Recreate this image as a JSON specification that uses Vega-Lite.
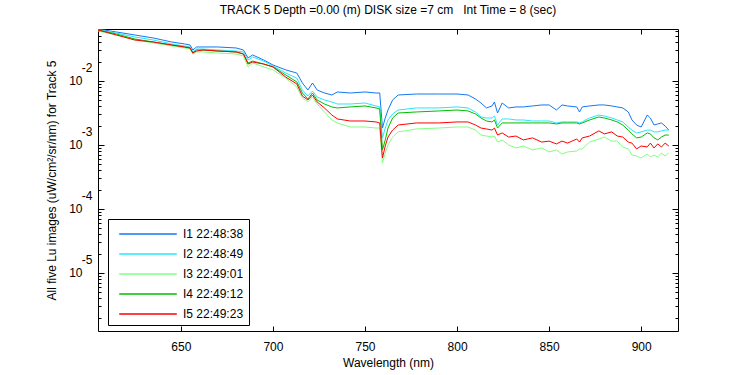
{
"$schema":"https://vega.github.io/schema/vega-lite/v6.json",
"width":580,"height":302,
"autosize":{"type":"none"},
"padding":{"left":98,"top":29,"right":72,"bottom":44},
"background":"white",
"title":{"text":"TRACK 5 Depth =0.00 (m) DISK size =7 cm\u00a0\u00a0 Int Time = 8 (sec)","anchor":"middle","offset":9,"fontSize":12,"fontWeight":"normal","font":"Liberation Sans","color":"black"},
"config":{"font":"Liberation Sans","view":{"stroke":"black","strokeWidth":1},
"axis":{"labelFontSize":12,"titleFontSize":12,"titleFontWeight":"normal","labelColor":"black","titleColor":"black","tickColor":"black","tickWidth":1,"grid":false,"domain":false,"labelFont":"Liberation Sans","titleFont":"Liberation Sans"},
"legend":{"labelFont":"Liberation Sans"}},
"data":{"values":[
{"w":605,"I1":0.0649,"I2":0.0627,"I3":0.0604,"I4":0.0627,"I5":0.0627},
{"w":615,"I1":0.0583,"I2":0.0562,"I3":0.0523,"I4":0.0542,"I5":0.0523},
{"w":625,"I1":0.0523,"I2":0.0487,"I3":0.0437,"I4":0.0453,"I5":0.0437},
{"w":635,"I1":0.0470,"I2":0.0437,"I3":0.0393,"I4":0.0407,"I5":0.0407},
{"w":645,"I1":0.0407,"I2":0.0379,"I3":0.0352,"I4":0.0365,"I5":0.0365},
{"w":652,"I1":0.0379,"I2":0.0352,"I3":0.0328,"I4":0.0340,"I5":0.0340},
{"w":655,"I1":0.0365,"I2":0.0340,"I3":0.0316,"I4":0.0328,"I5":0.0328},
{"w":656.5,"I1":0.0305,"I2":0.0284,"I3":0.0264,"I4":0.0274,"I5":0.0274},
{"w":658.5,"I1":0.0340,"I2":0.0316,"I3":0.0284,"I4":0.0305,"I5":0.0294},
{"w":662,"I1":0.0340,"I2":0.0316,"I3":0.0284,"I4":0.0305,"I5":0.0305},
{"w":670,"I1":0.0340,"I2":0.0305,"I3":0.0274,"I4":0.0294,"I5":0.0294},
{"w":680,"I1":0.0328,"I2":0.0294,"I3":0.0264,"I4":0.0284,"I5":0.0284},
{"w":684,"I1":0.0305,"I2":0.0284,"I3":0.0246,"I4":0.0264,"I5":0.0264},
{"w":686.5,"I1":0.0229,"I2":0.0213,"I3":0.0166,"I4":0.0191,"I5":0.0184},
{"w":689,"I1":0.0255,"I2":0.0237,"I3":0.0191,"I4":0.0205,"I5":0.0198},
{"w":695,"I1":0.0213,"I2":0.0205,"I3":0.0166,"I4":0.0184,"I5":0.0184},
{"w":700,"I1":0.0178,"I2":0.0171,"I3":0.0149,"I4":0.0166,"I5":0.0166},
{"w":707,"I1":0.0149,"I2":0.0133,"I3":0.0111,"I4":0.0124,"I5":0.0115},
{"w":713,"I1":0.0133,"I2":0.0111,"I3":0.00806,"I4":0.00965,"I5":0.00898},
{"w":716,"I1":0.00931,"I2":0.00723,"I3":0.00542,"I4":0.00649,"I5":0.00583},
{"w":719,"I1":0.00723,"I2":0.00583,"I3":0.00470,"I4":0.00523,"I5":0.00505},
{"w":721.5,"I1":0.00931,"I2":0.00698,"I3":0.00562,"I4":0.00649,"I5":0.00604},
{"w":724,"I1":0.00723,"I2":0.00562,"I3":0.00437,"I4":0.00505,"I5":0.00470},
{"w":728,"I1":0.00649,"I2":0.00505,"I3":0.00328,"I4":0.00437,"I5":0.00379},
{"w":732,"I1":0.00604,"I2":0.00470,"I3":0.00246,"I4":0.00393,"I5":0.00294},
{"w":735,"I1":0.00673,"I2":0.00437,"I3":0.00221,"I4":0.00379,"I5":0.00255},
{"w":742,"I1":0.00649,"I2":0.00437,"I3":0.00191,"I4":0.00393,"I5":0.00237},
{"w":750,"I1":0.00673,"I2":0.00453,"I3":0.00191,"I4":0.00407,"I5":0.00237},
{"w":756,"I1":0.00649,"I2":0.00407,"I3":0.00184,"I4":0.00379,"I5":0.00229},
{"w":758,"I1":0.00649,"I2":0.00393,"I3":0.00184,"I4":0.00365,"I5":0.00221},
{"w":759.5,"I1":0.00184,"I2":0.00129,"I3":0.000523,"I4":0.000836,"I5":0.000626},
{"w":761,"I1":0.00264,"I2":0.00184,"I3":0.000750,"I4":0.00120,"I5":0.000965},
{"w":762.5,"I1":0.00352,"I2":0.00246,"I3":0.00100,"I4":0.00184,"I5":0.00133},
{"w":765,"I1":0.00505,"I2":0.00305,"I3":0.00133,"I4":0.00264,"I5":0.00171},
{"w":768,"I1":0.00604,"I2":0.00352,"I3":0.00160,"I4":0.00316,"I5":0.00205},
{"w":778,"I1":0.00626,"I2":0.00379,"I3":0.00178,"I4":0.00328,"I5":0.00221},
{"w":790,"I1":0.00626,"I2":0.00379,"I3":0.00184,"I4":0.00340,"I5":0.00221},
{"w":800,"I1":0.00626,"I2":0.00393,"I3":0.00191,"I4":0.00352,"I5":0.00229},
{"w":806,"I1":0.00604,"I2":0.00379,"I3":0.00191,"I4":0.00340,"I5":0.00229},
{"w":810,"I1":0.00523,"I2":0.00328,"I3":0.00171,"I4":0.00305,"I5":0.00205},
{"w":813,"I1":0.00453,"I2":0.00274,"I3":0.00143,"I4":0.00264,"I5":0.00184},
{"w":816,"I1":0.00379,"I2":0.00264,"I3":0.00138,"I4":0.00237,"I5":0.00178},
{"w":819,"I1":0.00407,"I2":0.00264,"I3":0.00133,"I4":0.00229,"I5":0.00171},
{"w":820.3,"I1":0.00470,"I2":0.00284,"I3":0.00138,"I4":0.00246,"I5":0.00184},
{"w":822,"I1":0.00316,"I2":0.00205,"I3":0.00111,"I4":0.00184,"I5":0.00143},
{"w":824.5,"I1":0.00453,"I2":0.00255,"I3":0.00120,"I4":0.00221,"I5":0.00154},
{"w":828,"I1":0.00379,"I2":0.00255,"I3":0.00100,"I4":0.00221,"I5":0.00133},
{"w":832,"I1":0.00393,"I2":0.00246,"I3":0.000898,"I4":0.00221,"I5":0.00138},
{"w":836,"I1":0.00393,"I2":0.00246,"I3":0.000965,"I4":0.00221,"I5":0.00120},
{"w":841,"I1":0.00407,"I2":0.00237,"I3":0.000836,"I4":0.00221,"I5":0.00129},
{"w":846,"I1":0.00422,"I2":0.00237,"I3":0.000898,"I4":0.00221,"I5":0.00111},
{"w":850,"I1":0.00422,"I2":0.00237,"I3":0.000778,"I4":0.00221,"I5":0.00115},
{"w":854,"I1":0.00352,"I2":0.00221,"I3":0.000836,"I4":0.00213,"I5":0.00104},
{"w":857,"I1":0.00422,"I2":0.00229,"I3":0.000723,"I4":0.00221,"I5":0.00115},
{"w":860,"I1":0.00407,"I2":0.00229,"I3":0.000778,"I4":0.00221,"I5":0.00107},
{"w":865,"I1":0.00393,"I2":0.00229,"I3":0.000806,"I4":0.00221,"I5":0.00124},
{"w":866.5,"I1":0.00328,"I2":0.00221,"I3":0.000866,"I4":0.00213,"I5":0.00111},
{"w":868,"I1":0.00393,"I2":0.00229,"I3":0.000866,"I4":0.00221,"I5":0.00129},
{"w":872,"I1":0.00407,"I2":0.00264,"I3":0.00111,"I4":0.00246,"I5":0.00138},
{"w":877,"I1":0.00422,"I2":0.00294,"I3":0.00124,"I4":0.00274,"I5":0.00166},
{"w":880,"I1":0.00422,"I2":0.00284,"I3":0.00133,"I4":0.00264,"I5":0.00149},
{"w":884,"I1":0.00407,"I2":0.00264,"I3":0.00115,"I4":0.00246,"I5":0.00160},
{"w":887,"I1":0.00393,"I2":0.00246,"I3":0.00115,"I4":0.00229,"I5":0.00138},
{"w":890,"I1":0.00379,"I2":0.00229,"I3":0.000931,"I4":0.00205,"I5":0.00133},
{"w":893,"I1":0.00328,"I2":0.00191,"I3":0.000866,"I4":0.00171,"I5":0.00111},
{"w":895,"I1":0.00246,"I2":0.00171,"I3":0.000698,"I4":0.00149,"I5":0.00107},
{"w":897.5,"I1":0.00205,"I2":0.00154,"I3":0.000673,"I4":0.00129,"I5":0.000866},
{"w":900,"I1":0.00191,"I2":0.00160,"I3":0.000626,"I4":0.00133,"I5":0.000965},
{"w":903.3,"I1":0.00294,"I2":0.00171,"I3":0.000723,"I4":0.00154,"I5":0.000931},
{"w":905,"I1":0.00264,"I2":0.00171,"I3":0.000649,"I4":0.00149,"I5":0.00107},
{"w":907,"I1":0.00205,"I2":0.00160,"I3":0.000698,"I4":0.00129,"I5":0.000898},
{"w":909,"I1":0.00213,"I2":0.00160,"I3":0.000649,"I4":0.00120,"I5":0.00104},
{"w":911,"I1":0.00221,"I2":0.00166,"I3":0.000750,"I4":0.00133,"I5":0.000931},
{"w":913,"I1":0.00198,"I2":0.00171,"I3":0.000673,"I4":0.00143,"I5":0.00107},
{"w":915,"I1":0.00171,"I2":0.00171,"I3":0.000750,"I4":0.00143,"I5":0.000965}
]},
"transform":[{"fold":["I1","I2","I3","I4","I5"],"as":["series","v"]}],
"resolve":{"axis":{"x":"independent","y":"independent"}},
"layer":[
{"mark":{"type":"line","strokeWidth":1,"clip":true},
 "encoding":{
  "x":{"field":"w","type":"quantitative","scale":{"domain":[605,920],"nice":false,"zero":false},
       "axis":{"orient":"bottom","values":[650,700,750,800,850,900],"ticks":false,"labelPadding":10,"title":"Wavelength (nm)","titlePadding":5,"labelFlush":false}},
  "y":{"field":"v","type":"quantitative","scale":{"type":"log","domain":[1.24e-6,0.0649],"nice":false},
       "axis":{"orient":"left","values":[1e-5,1e-4,1e-3,1e-2],"ticks":false,"labelExpr":"'10'","offset":16,"labelPadding":0,"labelBaseline":"middle",
       "title":"All five Lu images (uW/cm²/sr/nm) for Track 5","titlePadding":10}},
  "color":{"field":"series","type":"nominal",
           "scale":{"domain":["I1","I2","I3","I4","I5"],"range":["#1478F0","#28E6FF","#80FF80","#00BE00","#FF0000"]},
           "legend":{"orient":"none","legendX":10,"legendY":190,"title":null,"direction":"vertical",
                     "fillColor":"white","strokeColor":"black","padding":5,"symbolType":"M-3.2,0H3.2","symbolSize":324,"symbolStrokeWidth":1.5,"symbolOffset":25,
                     "labelFontSize":12,"labelColor":"black","labelOffset":25,"rowPadding":4,
                     "labelExpr":"datum.label == 'I1' ? 'I1 22:48:38' : datum.label == 'I2' ? 'I2 22:48:49' : datum.label == 'I3' ? 'I3 22:49:01' : datum.label == 'I4' ? 'I4 22:49:12' : 'I5 22:49:23'"}}
 }},
{"mark":{"type":"point","opacity":0},
 "encoding":{
  "x":{"field":"w","type":"quantitative","axis":{"orient":"bottom","values":[650,700,750,800,850,900],"labels":false,"tickSize":-5,"title":null}},
  "y":{"field":"v","type":"quantitative","axis":{"orient":"left","values":[1e-5,1e-4,1e-3,1e-2],"ticks":false,"labelExpr":"'-' + format(-round(log(datum.value)/LN10), 'd')","offset":6,"labelPadding":0,"labelOffset":-13,"labelBaseline":"middle","title":null}}
 }},
{"mark":{"type":"point","opacity":0},
 "encoding":{
  "x":{"field":"w","type":"quantitative","axis":{"orient":"top","values":[650,700,750,800,850,900],"labels":false,"tickSize":-5,"title":null}},
  "y":{"field":"v","type":"quantitative","axis":{"orient":"left","values":[1e-5,1e-4,1e-3,1e-2],"labels":false,"tickSize":-6,"title":null}}
 }},
{"mark":{"type":"point","opacity":0},
 "encoding":{
  "x":{"field":"w","type":"quantitative","axis":null},
  "y":{"field":"v","type":"quantitative","axis":{"orient":"left","values":[2e-6,3e-6,4e-6,5e-6,6e-6,7e-6,8e-6,9e-6,2e-5,3e-5,4e-5,5e-5,6e-5,7e-5,8e-5,9e-5,2e-4,3e-4,4e-4,5e-4,6e-4,7e-4,8e-4,9e-4,2e-3,3e-3,4e-3,5e-3,6e-3,7e-3,8e-3,9e-3,2e-2,3e-2,4e-2,5e-2,6e-2],"labels":false,"tickSize":-3,"title":null}}
 }},
{"mark":{"type":"point","opacity":0},
 "encoding":{
  "x":{"field":"w","type":"quantitative","axis":null},
  "y":{"field":"v","type":"quantitative","axis":{"orient":"right","values":[1e-5,1e-4,1e-3,1e-2],"labels":false,"tickSize":-6,"title":null}}
 }},
{"mark":{"type":"point","opacity":0},
 "encoding":{
  "x":{"field":"w","type":"quantitative","axis":null},
  "y":{"field":"v","type":"quantitative","axis":{"orient":"right","values":[2e-6,3e-6,4e-6,5e-6,6e-6,7e-6,8e-6,9e-6,2e-5,3e-5,4e-5,5e-5,6e-5,7e-5,8e-5,9e-5,2e-4,3e-4,4e-4,5e-4,6e-4,7e-4,8e-4,9e-4,2e-3,3e-3,4e-3,5e-3,6e-3,7e-3,8e-3,9e-3,2e-2,3e-2,4e-2,5e-2,6e-2],"labels":false,"tickSize":-3,"title":null}}
 }}
]
}
